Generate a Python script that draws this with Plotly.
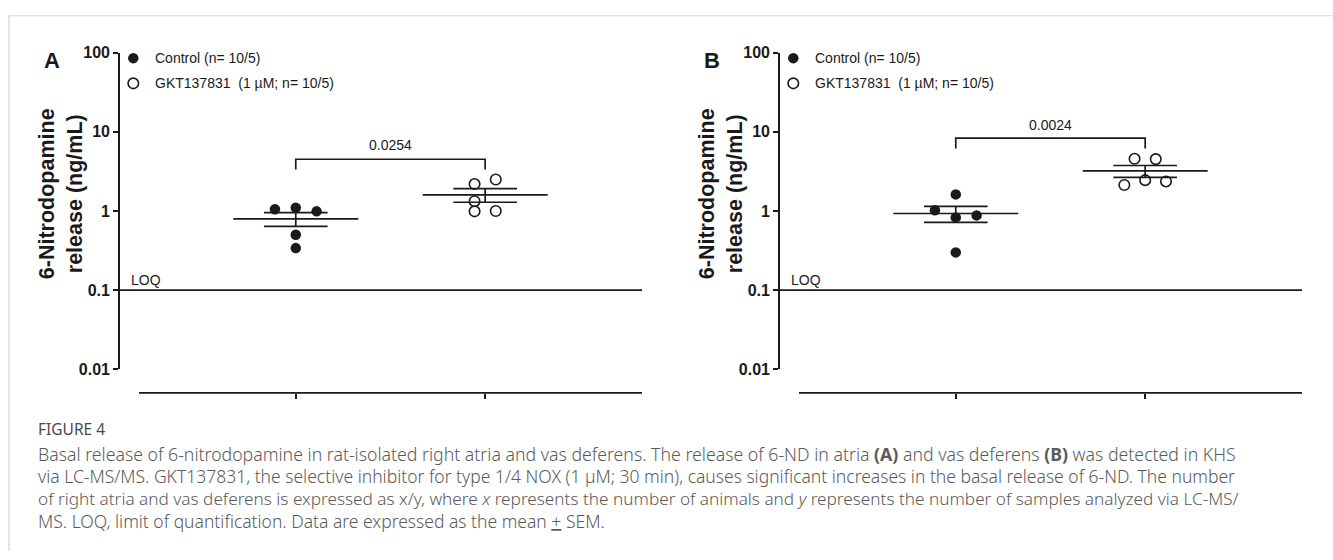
import numpy as np
import plotly.graph_objects as go

W, H = 1333, 560

# ---------------- data ----------------
categories = ["Control", "GKT137831"]
legend_labels = ["Control (n= 10/5)", "GKT137831  (1 µM; n= 10/5)"]
ytick_vals = [0.01, 0.1, 1, 10, 100]
ytick_text = ["0.01", "0.1", "1", "10", "100"]
loq_value = 0.1

a_control = [1.05, 1.10, 0.99, 0.50, 0.34]
a_gkt = [2.19, 2.50, 1.33, 0.99, 1.00]
b_control = [1.62, 1.02, 0.83, 0.88, 0.30]
b_gkt = [4.56, 4.52, 2.45, 2.13, 2.36]
p_values = ["0.0254", "0.0024"]
panel_letters = ["A", "B"]

# horizontal spread of the dots inside each column (category units)
a_control_dx = [-0.11, 0.0, 0.11, 0.0, 0.0]
a_gkt_dx = [-0.056, 0.056, -0.056, -0.056, 0.056]
b_control_dx = [0.0, -0.11, 0.0, 0.11, 0.0]
b_gkt_dx = [-0.056, 0.056, 0.0, -0.11, 0.11]

# bracket levels (value units): leg bottom, bar, p-label level
brackets = [(3.33, 4.50, 6.75), (6.14, 8.3, 12.2)]

caption_title = "FIGURE 4"
caption_lines = [
    "Basal release of 6-nitrodopamine in rat-isolated right atria and vas deferens. The release of 6-ND in atria <b>(A)</b> and vas deferens <b>(B)</b> was detected in KHS",
    "via LC-MS/MS. GKT137831, the selective inhibitor for type 1/4 NOX (1 µM; 30 min), causes significant increases in the basal release of 6-ND. The number",
    "of right atria and vas deferens is expressed as x/y, where <i>x</i> represents the number of animals and <i>y</i> represents the number of samples analyzed via LC-MS/",
    "MS. LOQ, limit of quantification. Data are expressed as the mean <u>+</u> SEM.",
]
caption_sizes = [17.7, 17.5, 17.2, 17.5]  # per-line size to mimic justified text

# ---------------- styling ----------------
FONT = "Arial, Liberation Sans, sans-serif"
INK = "#1a1a1a"
LW = 1.7


def px(x):
    return x / W


def py(y):
    return 1 - y / H


fig = go.Figure()

panels = [
    (a_control, a_gkt, a_control_dx, a_gkt_dx),
    (b_control, b_gkt, b_control_dx, b_gkt_dx),
]

layout_axes = {}
annotations = []
shapes = []

x_lo, x_hi = -0.928, 1.828
for i, (ctrl, gkt, cdx, gdx) in enumerate(panels):
    off = 660 * i
    n = "" if i == 0 else str(i + 1)
    xa, ya = "x" + n, "y" + n
    groups = [ctrl, gkt]
    dxs = [cdx, gdx]

    # dots
    for g, (vals, dx) in enumerate(zip(groups, dxs)):
        xs = [g + d for d in dx]
        if g == 0:
            marker = dict(size=10.5, color=INK, line=dict(width=0))
        else:
            marker = dict(size=10.5, color="white", line=dict(width=1.6, color=INK))
        fig.add_trace(go.Scatter(x=xs, y=vals, mode="markers", marker=marker,
                                 xaxis=xa, yaxis=ya, showlegend=False,
                                 cliponaxis=False, name=categories[g]))

    # mean +/- SEM
    for g, vals in enumerate(groups):
        v = np.array(vals)
        m = v.mean()
        s = v.std(ddof=1) / np.sqrt(len(v))
        xs = [g - 0.33, g + 0.33, None, g, g, None,
              g - 0.168, g + 0.168, None, g - 0.168, g + 0.168]
        ys = [m, m, None, m - s, m + s, None, m + s, m + s, None, m - s, m - s]
        fig.add_trace(go.Scatter(x=xs, y=ys, mode="lines",
                                 line=dict(color=INK, width=LW),
                                 xaxis=xa, yaxis=ya, showlegend=False,
                                 hoverinfo="skip"))

    # LOQ line
    fig.add_trace(go.Scatter(x=[x_lo, x_hi], y=[loq_value, loq_value], mode="lines",
                             line=dict(color=INK, width=LW), xaxis=xa, yaxis=ya,
                             showlegend=False, hoverinfo="skip", cliponaxis=False))

    # significance bracket
    lo, hi, ptxt = brackets[i]
    fig.add_trace(go.Scatter(x=[0, 0, 1, 1], y=[lo, hi, hi, lo], mode="lines",
                             line=dict(color=INK, width=LW), xaxis=xa, yaxis=ya,
                             showlegend=False, hoverinfo="skip"))
    annotations.append(dict(x=0.5, y=np.log10(ptxt), xref=xa, yref=ya, text=p_values[i],
                            showarrow=False, font=dict(family=FONT, size=14, color=INK),
                            xanchor="center", yanchor="middle"))

    layout_axes["xaxis" + n] = dict(
        domain=[px(120 + off), px(642 + off)], range=[x_lo, x_hi],
        anchor="free", position=py(397), showline=False, showgrid=False,
        zeroline=False, tickvals=[0, 1], ticktext=["", ""], ticks="outside",
        ticklen=5, tickwidth=LW, tickcolor=INK, fixedrange=True)
    layout_axes["yaxis" + n] = dict(
        type="log", range=[-2, 2], domain=[py(372.7), py(46)], anchor=xa,
        showline=True, linewidth=LW, linecolor=INK, showgrid=False, zeroline=False,
        tickvals=ytick_vals, ticktext=ytick_text, ticks="outside", ticklen=5,
        tickwidth=LW, tickcolor=INK,
        tickfont=dict(family=FONT, size=16, color=INK, weight="bold"),
        fixedrange=True)

    # x baseline (offset Prism-style axis)
    shapes.append(dict(type="line", xref="paper", yref="paper",
                       x0=px(139 + off), x1=px(642 + off), y0=py(397), y1=py(397),
                       line=dict(color=INK, width=LW)))

    # LOQ label
    annotations.append(dict(x=px(129 + off), y=py(280), xref="paper", yref="paper",
                            text="LOQ", showarrow=False, xanchor="left", yanchor="middle",
                            font=dict(family=FONT, size=14, color=INK)))

    # y title
    annotations.append(dict(x=px(61 + off), y=py(192), xref="paper", yref="paper",
                            text="6-Nitrodopamine<br>release (ng/mL)", textangle=-90,
                            showarrow=False, xanchor="center", yanchor="middle",
                            font=dict(family=FONT, size=21.5, color=INK, weight="bold")))

    # panel letter
    annotations.append(dict(x=px(52 + off), y=py(54), xref="paper", yref="paper",
                            text=panel_letters[i], showarrow=False, xanchor="center",
                            yanchor="middle",
                            font=dict(family=FONT, size=22, color=INK, weight="bold")))

    # legend glyphs (overlay pixel axis) + labels
    fig.add_trace(go.Scatter(x=[133.3 + off], y=[51.7], mode="markers",
                             marker=dict(size=10.5, color=INK), xaxis="x3", yaxis="y3",
                             showlegend=False, cliponaxis=False, hoverinfo="skip"))
    fig.add_trace(go.Scatter(x=[133.3 + off], y=[77.7], mode="markers",
                             marker=dict(size=10.5, color="white", line=dict(width=1.6, color=INK)),
                             xaxis="x3", yaxis="y3", showlegend=False, cliponaxis=False,
                             hoverinfo="skip"))
    for k, lab in enumerate(legend_labels):
        annotations.append(dict(x=px(152.5 + off), y=py(51.7 + 26 * k), xref="paper",
                                yref="paper", text=lab, showarrow=False, xanchor="left",
                                yanchor="middle",
                                font=dict(family=FONT, size=14, color=INK)))

# overlay pixel axis
layout_axes["xaxis3"] = dict(domain=[0, 1], range=[0, W], visible=False, fixedrange=True,
                             anchor="y3")
layout_axes["yaxis3"] = dict(domain=[0, 1], range=[H, 0], visible=False, fixedrange=True,
                             anchor="x3")

# caption
CAP_FONT = "Noto Sans, Open Sans, sans-serif"
CAP_COL = "#5a5a5a"
annotations.append(dict(x=px(36), y=py(434), xref="paper", yref="paper", text=caption_title,
                        showarrow=False, xanchor="left", yanchor="middle",
                        font=dict(family=CAP_FONT, size=15.5, color="#4a4a4a")))
for k, line in enumerate(caption_lines):
    annotations.append(dict(x=px(36), y=py(460 + 23 * k), xref="paper", yref="paper",
                            text=line, showarrow=False, xanchor="left", yanchor="middle",
                            font=dict(family=CAP_FONT, size=caption_sizes[k], color=CAP_COL,
                                      weight=300)))

# frame
shapes.append(dict(type="line", xref="paper", yref="paper", x0=px(9), x1=1.0,
                   y0=py(8), y1=py(8), line=dict(color="#d4d4d4", width=1.2)))
shapes.append(dict(type="line", xref="paper", yref="paper", x0=px(9), x1=px(9),
                   y0=py(8), y1=0, line=dict(color="#d4d4d4", width=1.2)))

fig.update_layout(
    width=W, height=H, margin=dict(l=0, r=0, t=0, b=0),
    paper_bgcolor="white", plot_bgcolor="rgba(0,0,0,0)",
    showlegend=False, annotations=annotations, shapes=shapes,
    **layout_axes,
)

fig.write_html("out.html", config={"displayModeBar": False})
